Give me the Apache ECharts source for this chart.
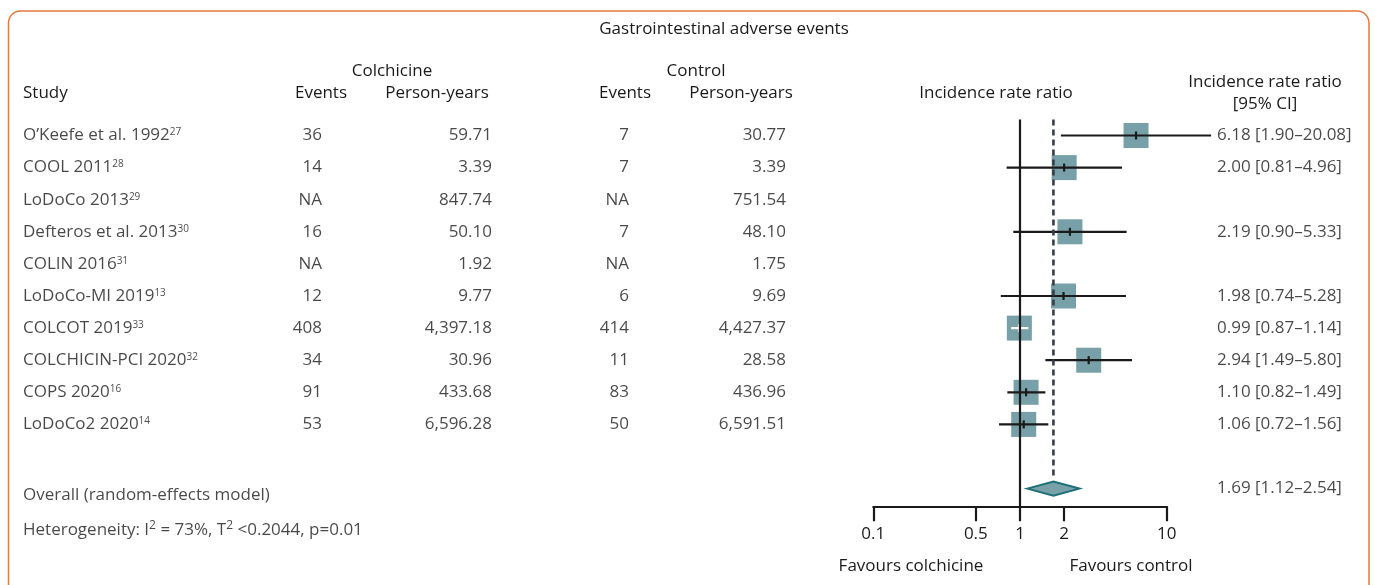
<!DOCTYPE html>
<html>
<head>
<meta charset="utf-8">
<script src="https://cdn.jsdelivr.net/npm/echarts@6/dist/echarts.min.js"></script>
<style>
  html, body { margin: 0; padding: 0; background: #ffffff; }
  #chart { width: 1375px; height: 585px; }
</style>
</head>
<body>
<div id="chart"></div>
<script>
// ---- Study data ----
const studies = ["O’Keefe et al. 1992", "COOL 2011", "LoDoCo 2013", "Defteros et al. 2013", "COLIN 2016",
                 "LoDoCo-MI 2019", "COLCOT 2019", "COLCHICIN-PCI 2020", "COPS 2020", "LoDoCo2 2020"];
const studyRefs = ["27", "28", "29", "30", "31", "13", "33", "32", "16", "14"];
const colchicineEvents = ["36", "14", "NA", "16", "NA", "12", "408", "34", "91", "53"];
const colchicinePersonYears = ["59.71", "3.39", "847.74", "50.10", "1.92", "9.77", "4,397.18", "30.96", "433.68", "6,596.28"];
const controlEvents = ["7", "7", "NA", "7", "NA", "6", "414", "11", "83", "50"];
const controlPersonYears = ["30.77", "3.39", "751.54", "48.10", "1.75", "9.69", "4,427.37", "28.58", "436.96", "6,591.51"];
const irr = [6.18, 2.00, null, 2.19, null, 1.98, 0.99, 2.94, 1.10, 1.06];
const ciLow = [1.90, 0.81, null, 0.90, null, 0.74, 0.87, 1.49, 0.82, 0.72];
const ciHigh = [20.08, 4.96, null, 5.33, null, 5.28, 1.14, 5.80, 1.49, 1.56];
// pooled estimate (random-effects): [IRR, lower, upper]
const pooled = [1.69, 1.12, 2.54];
const xTicks = [0.1, 0.5, 1, 2, 10];
const xTickLabels = ["0.1", "0.5", "1", "2", "10"];

// ---- Layout ----
const FONT = "Open Sans";
const FS = 17;
const TEXT = "#1c1a1b";
const BOX = "#78a0a8";
const INK = "#1a1a1a";
const ROW0 = 135.5;      // pixel centre of first study row
const STEP = 32.1;       // row pitch
const OVERALL_ROW = studies.length + 1;
const OVERALL_LABEL_ROW = 11.2;
const HET_ROW = 12.28;
const col = { study: 23, colEv: 322, colPY: 492, ctlEv: 629, ctlPY: 786, ci: 1217 };

const lg = Math.log10;
const fmtCI = (e, l, h) => e.toFixed(2) + " [" + l.toFixed(2) + "–" + h.toFixed(2) + "]";

// ---- Forest grid geometry (log scale 0.1 .. 10) ----
const forestLeft = 873.3, forestWidth = 293.4;
const yMin = -0.5, yMax = 11.55;
const tableYMin = -4, tableYMax = 14;

// ---- Table cells ----
function cells(x, values) {
  return values.map((v, i) => [x, i, v]);
}
const studyCells = studies.map((s, i) => [col.study, i, s, studyRefs[i]]);
const ciCells = irr.map((e, i) => e == null ? null : [col.ci, i, fmtCI(e, ciLow[i], ciHigh[i])]).filter(Boolean);
ciCells.push([col.ci, OVERALL_ROW, fmtCI(pooled[0], pooled[1], pooled[2])]);

const baseLabel = { fontFamily: FONT, fontSize: FS, color: TEXT };

function textSeries(data, align, extra) {
  return Object.assign({
    type: "scatter",
    xAxisIndex: 1, yAxisIndex: 1,
    symbolSize: 1,
    itemStyle: { color: "rgba(0,0,0,0)" },
    silent: true,
    data: data,
    label: Object.assign({
      show: true, position: "inside", align: align, verticalAlign: "middle",
      formatter: p => p.value[2]
    }, baseLabel)
  }, extra || {});
}

// ---- Forest marks ----
const forestData = [];
irr.forEach((e, i) => { if (e != null) forestData.push([lg(e), i, lg(ciLow[i]), lg(ciHigh[i])]); });

function renderStudy(params, api) {
  const c = api.coord([api.value(0), api.value(1)]);
  const l = api.coord([api.value(2), api.value(1)]);
  const h = api.coord([api.value(3), api.value(1)]);
  const half = 12.5;
  const inside = l[0] >= c[0] - half && h[0] <= c[0] + half;
  const stroke = inside ? "#ffffff" : INK;
  return {
    type: "group",
    children: [
      { type: "rect", shape: { x: c[0] - half, y: c[1] - half, width: half * 2, height: half * 2 }, style: { fill: BOX } },
      { type: "line", shape: { x1: l[0], y1: c[1], x2: h[0], y2: c[1] }, style: { stroke: stroke, lineWidth: 2.2 } },
      { type: "line", shape: { x1: c[0], y1: c[1] - 4, x2: c[0], y2: c[1] + 4 }, style: { stroke: stroke, lineWidth: 2.2 } }
    ]
  };
}

function renderDiamond(params, api) {
  const c = api.coord([api.value(0), api.value(1)]);
  const l = api.coord([api.value(2), api.value(1)]);
  const h = api.coord([api.value(3), api.value(1)]);
  const hh = 7;
  return {
    type: "polygon",
    shape: { points: [[l[0], c[1]], [c[0], c[1] - hh], [h[0], c[1]], [c[0], c[1] + hh]] },
    style: { fill: BOX, stroke: "#1d6f78", lineWidth: 2 }
  };
}

function headerText(text, x, y, align) {
  return {
    type: "text", x: x, y: y, silent: true,
    style: { text: text, fontFamily: FONT, fontSize: FS, fill: TEXT, align: align || "center", verticalAlign: "middle" }
  };
}

const chart = echarts.init(document.getElementById("chart"), null, { renderer: "canvas" });

chart.setOption({
  animation: false,
  backgroundColor: "#ffffff",
  grid: [
    { left: forestLeft, width: forestWidth, top: ROW0 + yMin * STEP, height: (yMax - yMin) * STEP, containLabel: false },
    { left: 0, width: 1375, top: ROW0 + tableYMin * STEP, height: (tableYMax - tableYMin) * STEP, containLabel: false }
  ],
  xAxis: [
    {
      gridIndex: 0, type: "value", min: -1, max: 1, position: "bottom",
      axisLine: { show: true, onZero: false, lineStyle: { color: INK, width: 2.2 } },
      axisTick: { show: true, inside: false, length: 15, customValues: xTicks.map(lg), lineStyle: { color: INK, width: 2.2 } },
      axisLabel: {
        show: true, margin: 18, customValues: xTicks.map(lg), fontFamily: FONT, fontSize: FS, color: TEXT, lineHeight: 20,
        formatter: v => {
          let best = 0;
          xTicks.forEach((t, k) => { if (Math.abs(lg(t) - v) < Math.abs(lg(xTicks[best]) - v)) best = k; });
          return xTickLabels[best];
        }
      },
      splitLine: { show: false }
    },
    { gridIndex: 1, type: "value", min: 0, max: 1375, show: false }
  ],
  yAxis: [
    { gridIndex: 0, type: "value", inverse: true, min: yMin, max: yMax, show: false },
    { gridIndex: 1, type: "value", inverse: true, min: tableYMin, max: tableYMax, show: false }
  ],
  series: [
    // line of no effect
    {
      type: "line", xAxisIndex: 0, yAxisIndex: 0, symbol: "none", silent: true,
      data: [[0, yMin], [0, yMax]],
      lineStyle: { color: INK, width: 2.2 }
    },
    // pooled estimate reference line
    {
      type: "line", xAxisIndex: 0, yAxisIndex: 0, symbol: "none", silent: true,
      data: [[lg(pooled[0]), yMin], [lg(pooled[0]), 10.65]],
      lineStyle: { color: "#363c4a", width: 2.6, type: [6, 4] }
    },
    {
      type: "custom", xAxisIndex: 0, yAxisIndex: 0, clip: false, silent: true,
      renderItem: renderStudy, data: forestData
    },
    {
      type: "custom", xAxisIndex: 0, yAxisIndex: 0, clip: false, silent: true,
      renderItem: renderDiamond, data: [[lg(pooled[0]), OVERALL_ROW, lg(pooled[1]), lg(pooled[2])]]
    },
    // table columns
    textSeries(studyCells, "left", {
      label: {
        show: true, position: "inside", align: "left", verticalAlign: "middle",
        formatter: p => "{n|" + p.value[2] + "}{s|" + p.value[3] + "}",
        rich: {
          n: { fontFamily: FONT, fontSize: FS, color: TEXT, lineHeight: 20, verticalAlign: "middle" },
          s: { fontFamily: FONT, fontSize: 10, color: TEXT, lineHeight: 10, verticalAlign: "top", padding: [2, 0, 0, 0] }
        }
      }
    }),
    textSeries(cells(col.colEv, colchicineEvents), "right"),
    textSeries(cells(col.colPY, colchicinePersonYears), "right"),
    textSeries(cells(col.ctlEv, controlEvents), "right"),
    textSeries(cells(col.ctlPY, controlPersonYears), "right"),
    textSeries(ciCells, "left"),
    textSeries([[col.study, OVERALL_LABEL_ROW, "Overall (random-effects model)"]], "left"),
    textSeries([[col.study, HET_ROW, "Heterogeneity"]], "left", {
      label: {
        show: true, position: "inside", align: "left", verticalAlign: "middle",
        formatter: p => "{n|" + p.value[2] + ": I}{s|2}{n| = 73%, T}{s|2}{n| <0.2044, p=0.01}",
        rich: {
          n: { fontFamily: FONT, fontSize: FS, color: TEXT, lineHeight: 20, verticalAlign: "middle" },
          s: { fontFamily: FONT, fontSize: 12, color: TEXT, lineHeight: 12, verticalAlign: "top" }
        }
      }
    })
  ],
  graphic: [
    {
      type: "rect", silent: true, z: -1,
      shape: { x: 8.5, y: 11, width: 1360.5, height: 640, r: 12 },
      style: { fill: "none", stroke: "#e8773a", lineWidth: 1.5 }
    },
    headerText("Gastrointestinal adverse events", 724, 29),
    headerText("Colchicine", 392, 71),
    headerText("Control", 696, 71),
    headerText("Study", 23, 93, "left"),
    headerText("Events", 321, 93),
    headerText("Person-years", 437, 93),
    headerText("Events", 625, 93),
    headerText("Person-years", 741, 93),
    headerText("Incidence rate ratio", 996, 93),
    headerText("Incidence rate ratio", 1265, 82),
    headerText("[95% CI]", 1265, 104),
    headerText("Favours colchicine", 911, 566),
    headerText("Favours control", 1131, 566)
  ]
});
</script>
</body>
</html>
